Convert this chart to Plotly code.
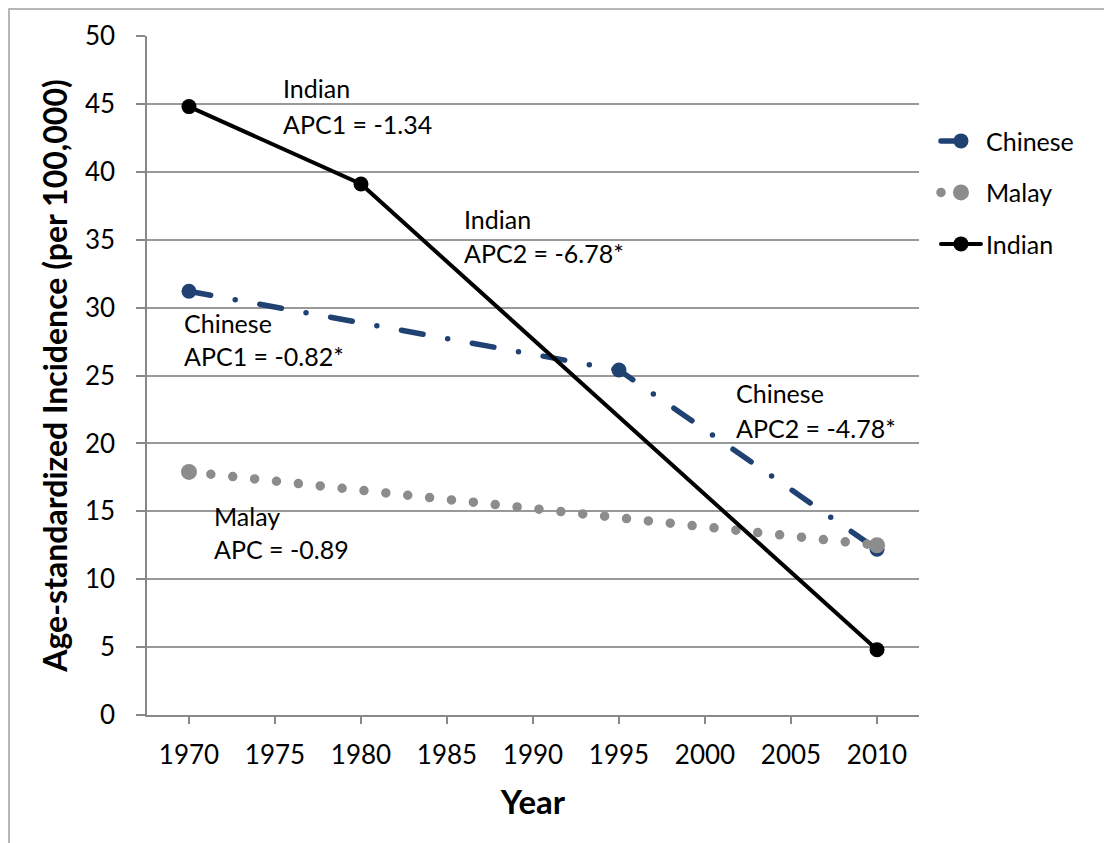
import plotly.graph_objects as go

# ---- data ----
chinese_years = [1970, 1995, 2010]
chinese_vals = [31.2, 25.4, 12.2]
malay_years = [1970, 2010]
malay_vals = [17.9, 12.5]
indian_years = [1970, 1980, 2010]
indian_vals = [44.8, 39.1, 4.8]

x_ticks = [1970, 1975, 1980, 1985, 1990, 1995, 2000, 2005, 2010]
y_ticks = [0, 5, 10, 15, 20, 25, 30, 35, 40, 45, 50]

# annotation labels (text lines, x-left in years, y-center in data units)
label_lines = [
    ("Indian", 1975.35, 46.2), ("APC1 = -1.34", 1975.35, 43.5),
    ("Indian", 1985.9, 36.5), ("APC2 = -6.78*", 1985.9, 34.0),
    ("Chinese", 1969.6, 28.9), ("APC1 = -0.82*", 1969.6, 26.4),
    ("Chinese", 2001.7, 23.7), ("APC2 = -4.78*", 2001.7, 21.1),
    ("Malay", 1971.35, 14.65), ("APC = -0.89", 1971.35, 12.2),
]

FONT = "Lato"
NAVY = "#1F4272"
GRAY = "#8C8C8C"

fig = go.Figure()
fig.add_trace(go.Scatter(
    x=chinese_years, y=chinese_vals, name="Chinese", mode="lines+markers",
    line=dict(color=NAVY, width=5.5, dash="22px,25px,0px,25px"),
    marker=dict(color=NAVY, size=15), legendgroup="a"))
fig.add_trace(go.Scatter(
    x=malay_years, y=malay_vals, name="Malay", mode="lines+markers",
    line=dict(color=GRAY, width=9.5, dash="0px,22px"),
    marker=dict(color=GRAY, size=16), legendgroup="b"))
fig.add_trace(go.Scatter(
    x=indian_years, y=indian_vals, name="Indian", mode="lines+markers",
    line=dict(color="black", width=4),
    marker=dict(color="black", size=15), legendgroup="c"))

for txt, xx, yy in label_lines:
    fig.add_annotation(x=xx, y=yy, text=txt, showarrow=False, xanchor="left",
                       yanchor="middle", font=dict(family=FONT, size=25, color="black"))

fig.update_layout(
    width=1104, height=835,
    margin=dict(l=139, r=193, t=28, b=128),
    paper_bgcolor="white", plot_bgcolor="white",
    font=dict(family=FONT, size=24, color="black"),
    legend=dict(x=1.022, y=0.879, xanchor="left", yanchor="top",
                font=dict(family=FONT, size=25), tracegroupgap=16,
                itemwidth=40, bgcolor="rgba(0,0,0,0)"),
    shapes=[dict(type="rect", xref="paper", yref="paper",
                 x0=-138/772, x1=1.5, y0=-0.5, y1=1 + 27/679,
                 line=dict(color="#A0A0A0", width=1.5), layer="below")],
)
fig.update_xaxes(range=[1967.56, 2012.44], tickvals=x_ticks, ticks="outside", ticklen=7,
                 tickcolor="#888888", tickwidth=1.5, showline=True, linecolor="#888888",
                 linewidth=1.5, showgrid=False, zeroline=False,
                 tickfont=dict(family=FONT, size=26), ticklabelstandoff=9,
                 title=dict(text="<b>Year</b>", font=dict(family=FONT, size=33), standoff=22))
fig.update_yaxes(range=[0, 50], tickvals=y_ticks, ticks="outside", ticklen=9,
                 tickcolor="#888888", tickwidth=1.5, showline=True, linecolor="#888888",
                 linewidth=1.5, showgrid=True, gridcolor="#999999", gridwidth=1.5,
                 zeroline=False, tickfont=dict(family=FONT, size=26), ticklabelstandoff=16,
                 title=dict(text="<b>Age-standardized Incidence (per 100,000)</b>",
                            font=dict(family=FONT, size=32), standoff=8))

post = """
function fixCaps(){
  document.querySelectorAll('.scatterlayer path.js-line, .legendlines path').forEach(function(p){
    p.style.strokeLinecap='round';
  });
}
fixCaps();
var gd=document.getElementsByClassName('plotly-graph-div')[0];
if(gd && gd.on){gd.on('plotly_afterplot', fixCaps);}
"""
fig.write_html("out.html", post_script=post)
